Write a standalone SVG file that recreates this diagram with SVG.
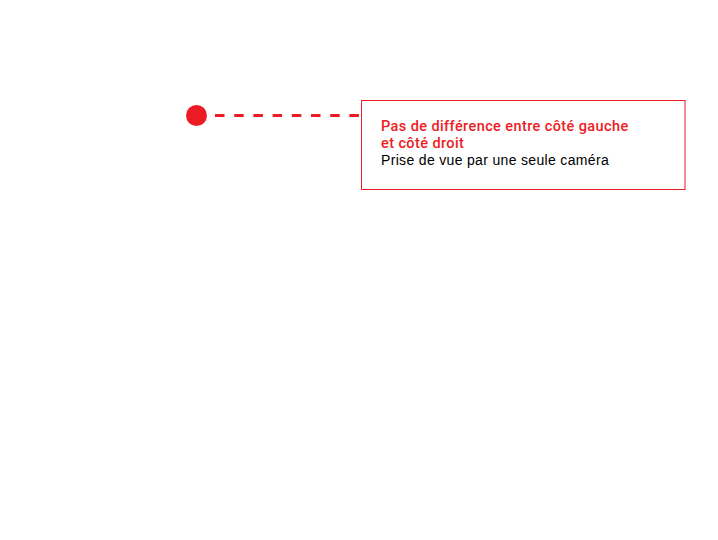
<svg xmlns="http://www.w3.org/2000/svg" width="718" height="540" viewBox="0 0 718 540">
<style>
.lbl{font-family:"Liberation Sans",Arial,Helvetica,sans-serif;font-size:14px}
.red{fill:#ED1C24;font-family:Roboto,"Liberation Sans",Arial,sans-serif;font-size:14.5px;font-weight:500;letter-spacing:0.4px}
.blk{fill:#000;letter-spacing:0.33px}
</style>
<rect width="718" height="540" fill="#fff"/>
<g id="connectors">
<line x1="215" y1="115.5" x2="361" y2="115.5" stroke="#ED1C24" stroke-width="3" stroke-dasharray="9.5 9.7"/>
</g>
<g id="marker-dot">
<circle cx="196.5" cy="115.5" r="10.5" fill="#ED1C24"/>
</g>
<g id="callout">
<rect x="361.5" y="100.5" width="323.5" height="89" fill="#fff" stroke="#ED1C24" stroke-width="1"/>
<text class="lbl red" x="381" y="131">Pas de différence entre côté gauche</text>
<text class="lbl red" x="381" y="148">et côté droit</text>
<text class="lbl blk" x="381" y="164.5">Prise de vue par une seule caméra</text>
</g>
</svg>
